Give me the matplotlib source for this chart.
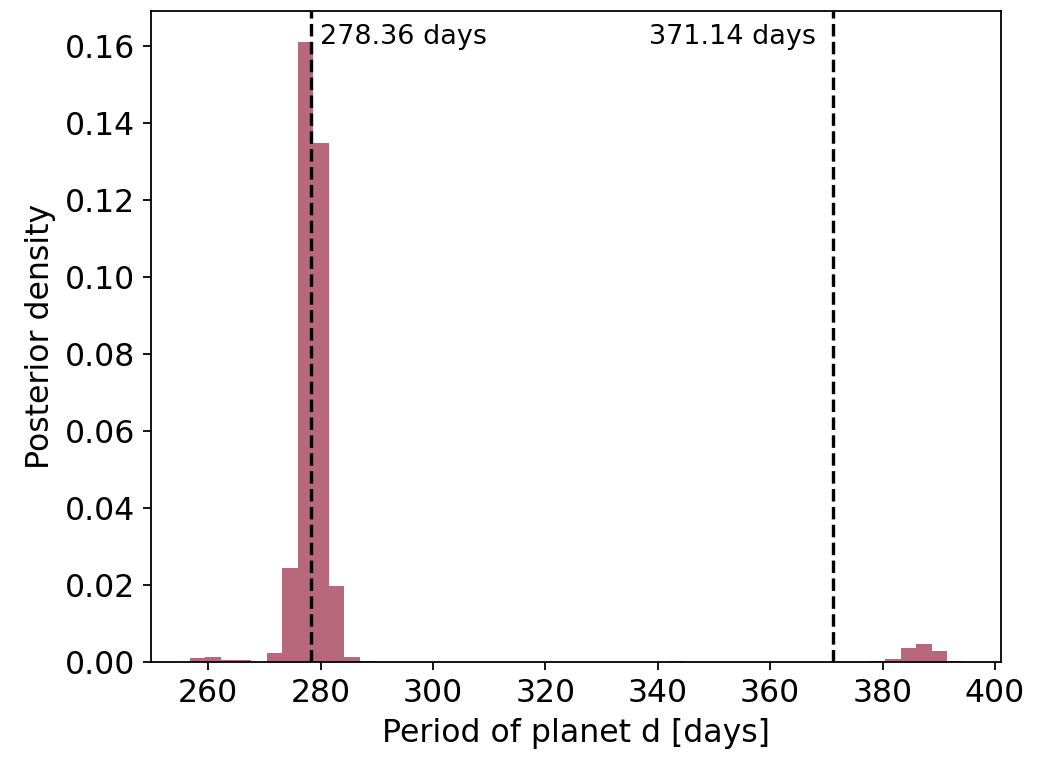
import matplotlib
matplotlib.use("Agg")
import matplotlib.pyplot as plt
import numpy as np

# histogram bins (50 bins from ~256.7 to ~394.2 days)
edges = np.linspace(256.7, 394.2, 51)
density = [0.0011, 0.0013, 0.0005, 0.0005, 0.0, 0.00225, 0.0243, 0.1611, 0.1347, 0.0197,
           0.0012, 0.0003, 0.0, 0.0, 0.0, 0.0, 0.0, 0.0, 0.0, 0.0,
           0.0, 0.0, 0.0, 0.0, 0.0, 0.0, 0.0001, 0.0, 0.0, 0.0,
           0.0, 0.0002, 0.0001, 0.0, 0.0, 0.0, 0.0, 0.0, 0.0, 0.0,
           0.0, 0.0, 0.0, 0.0, 0.0002, 0.0007, 0.0035, 0.0047, 0.0028, 0.0002]
periods = [278.36, 371.14]
labels = ["278.36 days", "371.14 days"]

centers = 0.5 * (edges[:-1] + edges[1:])

fig = plt.figure(figsize=(1038 / 162, 770 / 162), dpi=162)
ax = fig.add_axes([0.1455, 0.1403, 0.8189, 0.8454])

ax.hist(centers, bins=edges, weights=density, color="#a53e58", alpha=0.78)

ax.axvline(periods[0], color="black", ls="--", lw=1.5)
ax.axvline(periods[1], color="black", ls="--", lw=1.5)
ax.text(periods[0] + 1.5, 0.1623, labels[0], fontsize=12, ha="left", va="center")
ax.text(periods[1] - 3.0, 0.1623, labels[1], fontsize=12, ha="right", va="center")

ax.set_xlabel("Period of planet d [days]", fontsize=14)
ax.set_ylabel("Posterior density", fontsize=14)
ax.tick_params(labelsize=14)
ax.set_ylim(0, 0.1691)

plt.savefig("out.png", dpi=162)
